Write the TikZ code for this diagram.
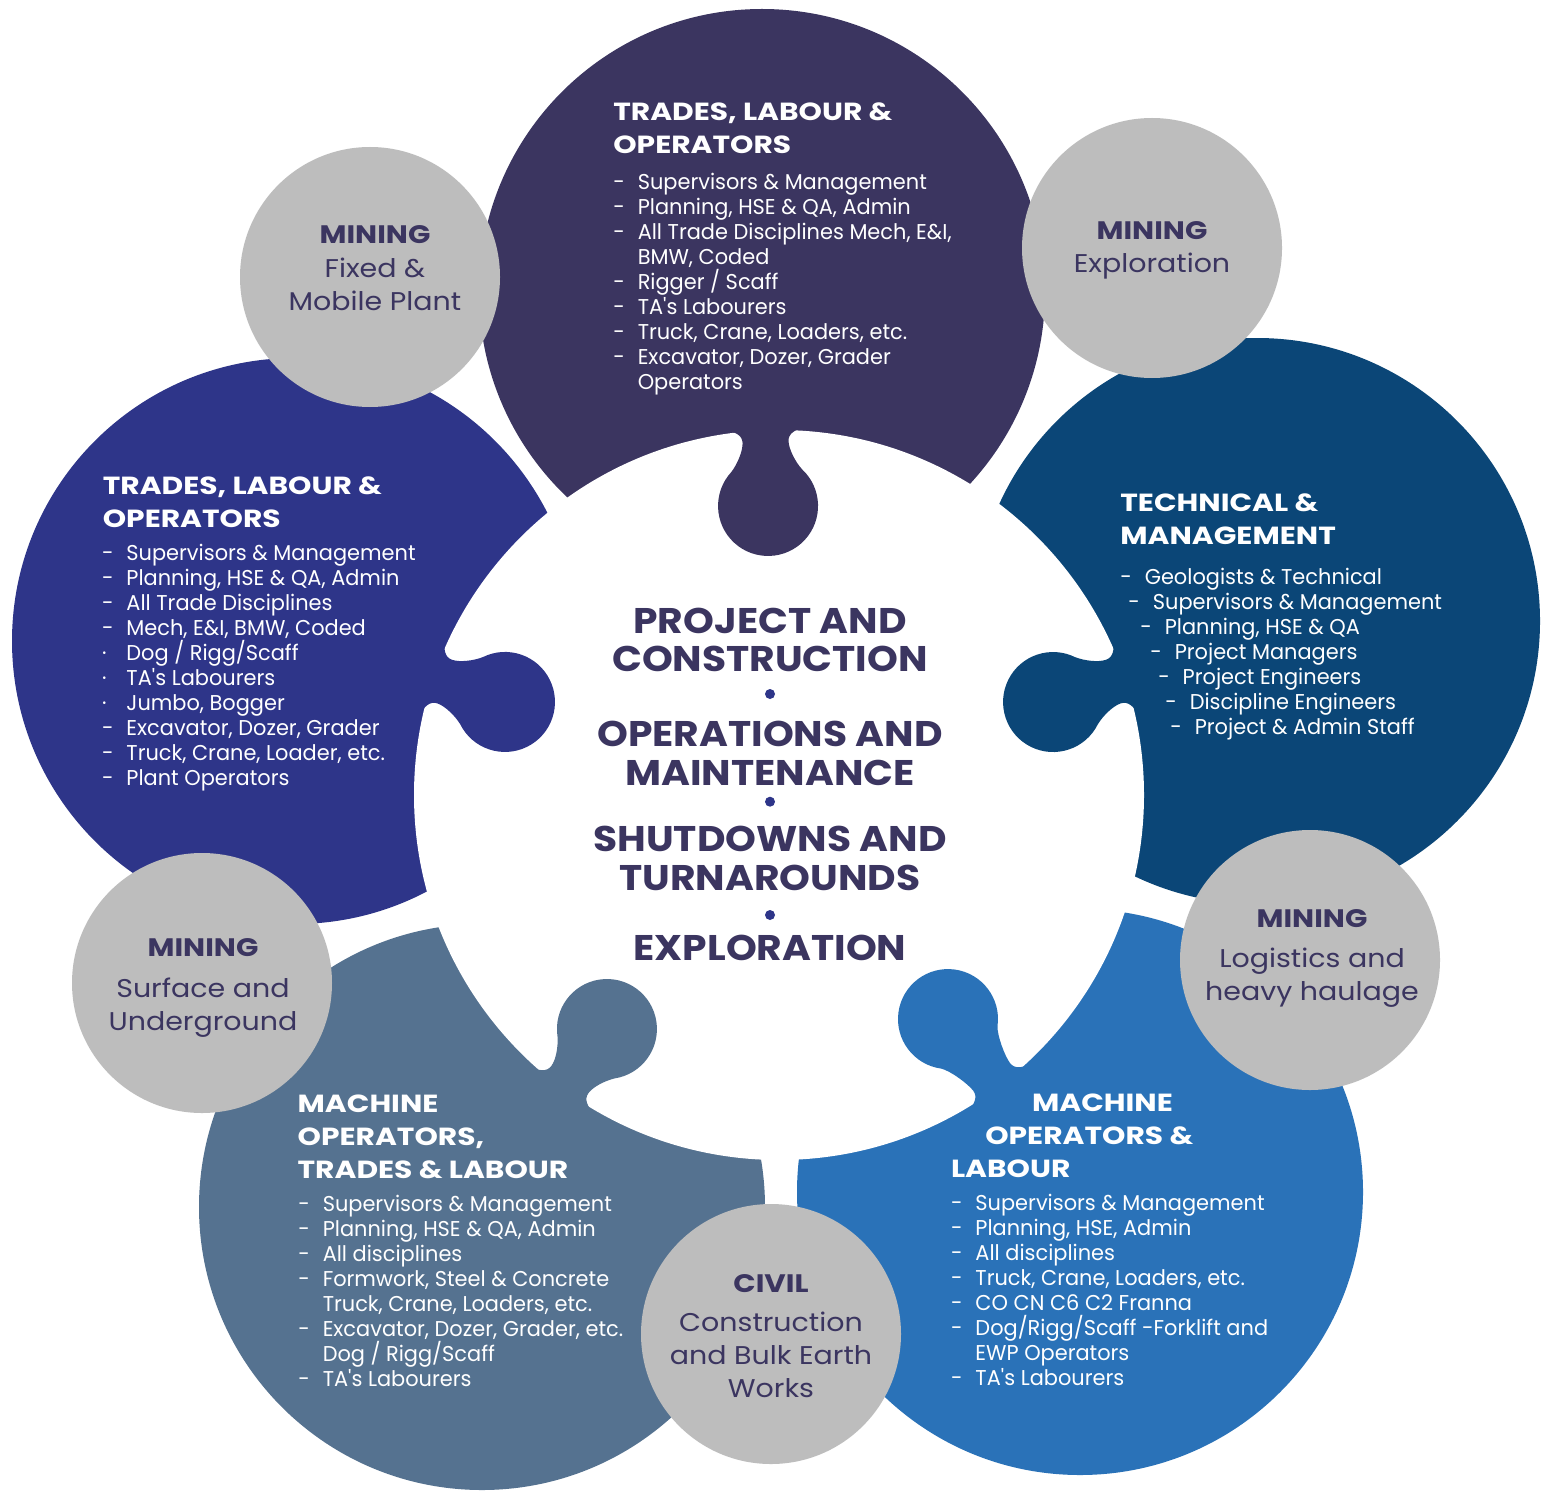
\documentclass[tikz,border=0pt]{standalone}
\usepackage{fontspec}
\setmainfont{Poppins}

\definecolor{plum}{HTML}{3B3560}
\definecolor{indigo}{HTML}{2E3589}
\definecolor{deepblue}{HTML}{0B4677}
\definecolor{slate}{HTML}{557290}
\definecolor{azure}{HTML}{2A72B8}
\definecolor{silver}{HTML}{BDBDBD}

% dash column of the lists
\newcommand{\dsh}{\makebox[13.9pt][l]{-}}
\newcommand{\cont}{\hspace*{13.9pt}}

% puzzle tab: colour, x, y, direction, gap to the white rim
\newcommand{\puzzletab}[5]{%
  \begin{scope}[shift={(#2,#3)},rotate=-#4]
    \fill[#1] ({#5+30},40) -- ({#5+2},40)
      .. controls ({#5-1},30) and ({#5-4},23) .. ({#5-12},23)
      .. controls ({#5-20},23) and (43,29) .. (35.4,35.4)
      arc[start angle=45,end angle=315,radius=50]
      .. controls (43,-29) and ({#5-20},-23) .. ({#5-12},-23)
      .. controls ({#5-4},-23) and ({#5-1},-30) .. ({#5+2},-40)
      -- ({#5+30},-40) -- cycle;
  \end{scope}}

\tikzset{
  head/.style={anchor=base west,inner sep=0pt,text=white,
    font=\bfseries\addfontfeatures{FakeStretch=1.2}\fontsize{14.1}{18.8}\selectfont},
  items/.style={anchor=base west,inner sep=0pt,text=white,
    font=\addfontfeatures{FakeStretch=0.975}\fontsize{12.2}{14.23}\selectfont},
  hub/.style={anchor=base,inner sep=0pt,text=plum,
    font=\bfseries\addfontfeatures{FakeStretch=1.1}\fontsize{20.3}{21.85}\selectfont},
  sector/.style={anchor=base,inner sep=0pt,text=plum,
    font=\bfseries\addfontfeatures{FakeStretch=1.16}\fontsize{14.4}{18.8}\selectfont},
  sectortext/.style={anchor=base,inner sep=0pt,text=plum,
    font=\addfontfeatures{FakeStretch=1.11}\fontsize{14.6}{18.8}\selectfont},
  dot/.style={circle,fill=indigo,inner sep=0pt,minimum size=0.2cm}
}

\begin{document}
\begin{tikzpicture}[x=0.02cm,y=-0.02cm]
\useasboundingbox (0,0) rectangle (1557,1500);
\fill[white] (0,0) rectangle (1557,1500);

% outer pieces
\fill[plum] (762,292) circle (283);
\fill[deepblue] (1257,621) circle (283);
\fill[azure] (1080,1192) circle (283);
\fill[slate] (482,1207) circle (283);
\fill[indigo] (295,641) circle (283);

% centre
\fill[white] (779,795) circle (365);

% tabs
\puzzletab{plum}{768}{506}{267.8}{76}
\puzzletab{indigo}{505}{702}{198.7}{75.6}
\puzzletab{deepblue}{1053}{702}{341.3}{75.6}
\puzzletab{azure}{948}{1019}{53}{84.4}
\puzzletab{slate}{607}{1029}{126.3}{74.6}

% grey discs
\fill[silver] (370,277) circle (130);
\fill[silver] (1152,248) circle (130);
\fill[silver] (1310,960) circle (130);
\fill[silver] (771,1334) circle (130);
\fill[silver] (202,983) circle (130);

% top piece
\node[head] (topHead) at (613,120.7) {\begin{tabular}[t]{@{}l@{}}
TRADES, LABOUR \&\\ OPERATORS\end{tabular}};
\node[items] (topList) at (613,189.3) {\begin{tabular}[t]{@{}l@{}}
\dsh Supervisors \& Management\\
\dsh Planning, HSE \& QA, Admin\\
\dsh All Trade Disciplines Mech, E\&I,\\
\cont BMW, Coded\\
\dsh \smash{Rigger / Scaff}\\
\dsh TA\textquotesingle s Labourers\\
\dsh Truck, Crane, Loaders, etc.\\
\dsh Excavator, Dozer, Grader\\
\cont Operators\end{tabular}};

% left piece
\node[head] (leftHead) at (102.5,494.3) {\begin{tabular}[t]{@{}l@{}}
TRADES, LABOUR \&\\ OPERATORS\end{tabular}};
\node[items] (leftList) at (101.7,560) {\begin{tabular}[t]{@{}l@{}}
\dsh Supervisors \& Management\\
\dsh Planning, HSE \& QA, Admin\\
\dsh All Trade Disciplines\\
\dsh Mech, E\&I, BMW, Coded\\
\makebox[13.9pt][l]{·}\smash{Dog / Rigg/Scaff}\\
\makebox[13.9pt][l]{·}TA\textquotesingle s Labourers\\
\makebox[13.9pt][l]{·}Jumbo, Bogger\\
\dsh Excavator, Dozer, Grader\\
\dsh Truck, Crane, Loader, etc.\\
\dsh Plant Operators\end{tabular}};

% right piece
\node[head] (rightHead) at (1120,511.7) {\begin{tabular}[t]{@{}l@{}}
TECHNICAL \&\\ MANAGEMENT\end{tabular}};
\node[items] (rightList) at (1120,584.3) {\begin{tabular}[t]{@{}l@{}}
\dsh Geologists \& Technical\\
\hspace*{4.6pt}\dsh Supervisors \& Management\\
\hspace*{11.4pt}\dsh Planning, HSE \& QA\\
\hspace*{17.1pt}\dsh Project Managers\\
\hspace*{21.6pt}\dsh Project Engineers\\
\hspace*{25.6pt}\dsh Discipline Engineers\\
\hspace*{28.5pt}\dsh Project \& Admin Staff\end{tabular}};

% bottom left piece
\node[head] (blHead) at (297.3,1112.3) {\begin{tabular}[t]{@{}l@{}}
MACHINE\\ OPERATORS,\\ TRADES \& LABOUR\end{tabular}};
\node[items] (blList) at (298,1211.7) {\begin{tabular}[t]{@{}l@{}}
\dsh Supervisors \& Management\\
\dsh Planning, HSE \& QA, Admin\\
\dsh All disciplines\\
\dsh Formwork, Steel \& Concrete\\
\cont Truck, Crane, Loaders, etc.\\
\dsh Excavator, Dozer, Grader, etc.\\
\cont \smash{Dog / Rigg/Scaff}\\
\dsh TA\textquotesingle s Labourers\end{tabular}};

% bottom right piece
\node[head] (brHead) at (950.7,1111) {\begin{tabular}[t]{@{}l@{}}
\hspace*{46.1pt}MACHINE\\ \hspace*{19.5pt}OPERATORS \&\\ LABOUR\end{tabular}};
\node[items] (brList) at (950.7,1210) {\begin{tabular}[t]{@{}l@{}}
\dsh Supervisors \& Management\\
\dsh Planning, HSE, Admin\\
\dsh All disciplines\\
\dsh Truck, Crane, Loaders, etc.\\
\dsh CO CN C6 C2 Franna\\
\dsh \smash{Dog/Rigg/Scaff -Forklift and}\\
\cont EWP Operators\\
\dsh TA\textquotesingle s Labourers\end{tabular}};

% centre text
\node[hub] (pc) at (770,633.3) {\begin{tabular}[t]{@{}c@{}}PROJECT AND\\ CONSTRUCTION\end{tabular}};
\node[dot] (d1) at (770,694) {};
\node[hub] (om) at (770,746.7) {\begin{tabular}[t]{@{}c@{}}OPERATIONS AND\\ MAINTENANCE\end{tabular}};
\node[dot] (d2) at (770,801.7) {};
\node[hub] (st) at (770,851.7) {\begin{tabular}[t]{@{}c@{}}SHUTDOWNS AND\\ TURNAROUNDS\end{tabular}};
\node[dot] (d3) at (770,915) {};
\node[hub] (ex) at (770,960) {EXPLORATION};

% grey disc labels
\node[sector] (plantTitle) at (375,244) {MINING};
\node[sectortext] (plantText) at (375,277) {\begin{tabular}[t]{@{}c@{}}Fixed \&\\ Mobile Plant\end{tabular}};
\node[sector] (explTitle) at (1152,240) {MINING};
\node[sectortext] (explText) at (1152,273) {Exploration};
\node[sector] (logTitle) at (1312,927) {MINING};
\node[sectortext] (logText) at (1312,967) {\begin{tabular}[t]{@{}c@{}}Logistics and\\ heavy haulage\end{tabular}};
\node[sector] (surfTitle) at (203,956) {MINING};
\node[sectortext] (surfText) at (203,997) {\begin{tabular}[t]{@{}c@{}}Surface and\\ Underground\end{tabular}};
\node[sector] (civilTitle) at (771,1292.7) {CIVIL};
\node[sectortext] (civilText) at (771,1331.7) {\begin{tabular}[t]{@{}c@{}}Construction\\ and Bulk Earth\\ Works\end{tabular}};

\end{tikzpicture}
\end{document}
